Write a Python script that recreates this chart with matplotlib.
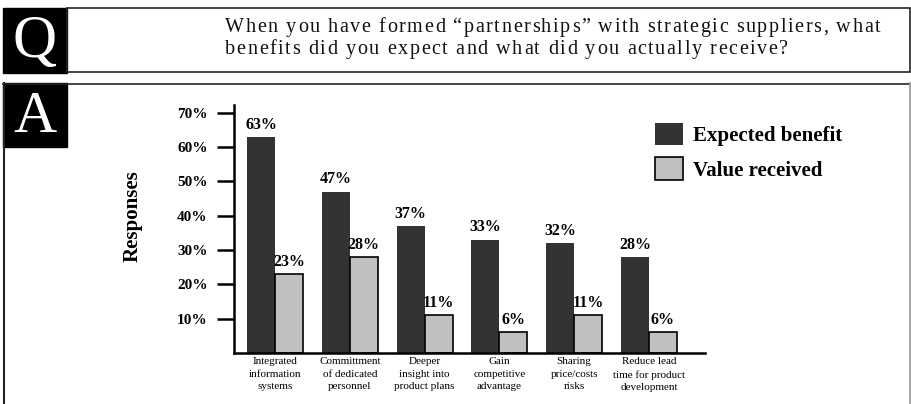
import matplotlib
matplotlib.use("Agg")
import matplotlib.pyplot as plt
from matplotlib.patches import Rectangle
from matplotlib.font_manager import FontProperties
import numpy as np

plt.rcParams['font.family'] = ['Liberation Serif', 'DejaVu Serif']

categories = ["Integrated\ninformation\nsystems",
              "Committment\nof dedicated\npersonnel",
              "Deeper\ninsight into\nproduct plans",
              "Gain\ncompetitive\nadvantage",
              "Sharing\nprice/costs\nrisks",
              "Reduce lead\ntime for product\ndevelopment"]
expected = [63, 47, 37, 33, 32, 28]
received = [23, 28, 11, 6, 11, 6]
series_names = ["Expected benefit", "Value received"]
yticks = [10, 20, 30, 40, 50, 60, 70]
question = ["When you have formed \u201cpartnerships\u201d with strategic suppliers, what",
            "benefits did you expect and what did you actually receive?"]

W, H = 911, 404
fig = plt.figure(figsize=(W / 100, H / 100), dpi=100)
renderer = fig.canvas.get_renderer()

# background frame in pixel coordinates
bg = fig.add_axes([0, 0, 1, 1])
bg.set_xlim(0, W)
bg.set_ylim(H, 0)
bg.axis('off')
bg.add_patch(Rectangle((3, 8), 64, 65, color='black'))
bg.add_patch(Rectangle((67, 7.5), 842.5, 64.5, fill=False, lw=1.2, edgecolor='#222222'))
bg.add_patch(Rectangle((3, 83), 64, 64, color='black'))
bg.plot([3, 910], [83.5, 83.5], color='#222222', lw=1.2)
bg.plot([4, 4], [83, H], color='#222222', lw=1.5)
bg.plot([909.5, 909.5], [83, H], color='#999999', lw=1.2)
bg.text(35, 57, "Q", color='white', fontsize=44, ha='center', va='baseline')
bg.text(35, 132, "A", color='white', fontsize=43, ha='center', va='baseline')


# question text is letter-spaced in the original, so set it char by char
def text_w(s, prop):
    w1, _, _ = renderer.get_text_width_height_descent(s + "|", prop, ismath=False)
    w2, _, _ = renderer.get_text_width_height_descent("|", prop, ismath=False)
    return w1 - w2


qprop = FontProperties(family='Liberation Serif', size=14.5)
nat = text_w(question[0], qprop)
track = (655 - nat) / (len(question[0]) - 1)
for line, base in zip(question, [32, 54]):
    for i, ch in enumerate(line):
        if ch == " ":
            continue
        bg.text(225 + text_w(line[:i], qprop) + i * track, base, ch,
                fontproperties=qprop, ha='left', va='baseline', color='#111111')

bg.text(133, 216, "Responses", fontsize=15, fontweight='bold', rotation=90,
        ha='center', va='center')

# chart axes
ax = fig.add_axes([234 / W, (H - 353) / H, 471 / W, 248 / H])
x = np.arange(len(categories))
w = 0.374
b1 = ax.bar(x - w / 2, expected, w, color='#333333', label=series_names[0])
b2 = ax.bar(x + w / 2, received, w, color='#c0c0c0', edgecolor='black',
            linewidth=1.2, label=series_names[1])
for bars, vals in [(b1, expected), (b2, received)]:
    for r, v in zip(bars, vals):
        ax.annotate(f"{v}%", (r.get_x() + r.get_width() / 2, v),
                    xytext=(0, 6), textcoords='offset points',
                    ha='center', va='baseline', fontsize=11.5, fontweight='bold')

ax.set_xlim(-0.548, 5.749)
ax.set_ylim(0, 72.3)
ax.set_yticks(yticks)
ax.set_yticklabels([f"{t}%" for t in yticks], fontsize=11, fontweight='bold')
ax.set_xticks(x)
ax.set_xticklabels(categories, fontsize=8, linespacing=1.5)
ax.tick_params(axis='x', length=0, pad=3)
ax.tick_params(axis='y', length=12, width=1.8, pad=7, direction='out')
for s in ['top', 'right']:
    ax.spines[s].set_visible(False)
for s in ['left', 'bottom']:
    ax.spines[s].set_linewidth(1.8)
ax.patch.set_alpha(0)

leg = ax.legend(handles=[b1, b2], loc='upper left',
                bbox_to_anchor=(655 / W, (H - 123) / H), bbox_transform=fig.transFigure,
                frameon=False, prop={'weight': 'bold', 'size': 15},
                handlelength=1.33, handleheight=1.25, handletextpad=0.5,
                labelspacing=0.55, borderpad=0, borderaxespad=0)

fig.savefig("out.png", dpi=100)
